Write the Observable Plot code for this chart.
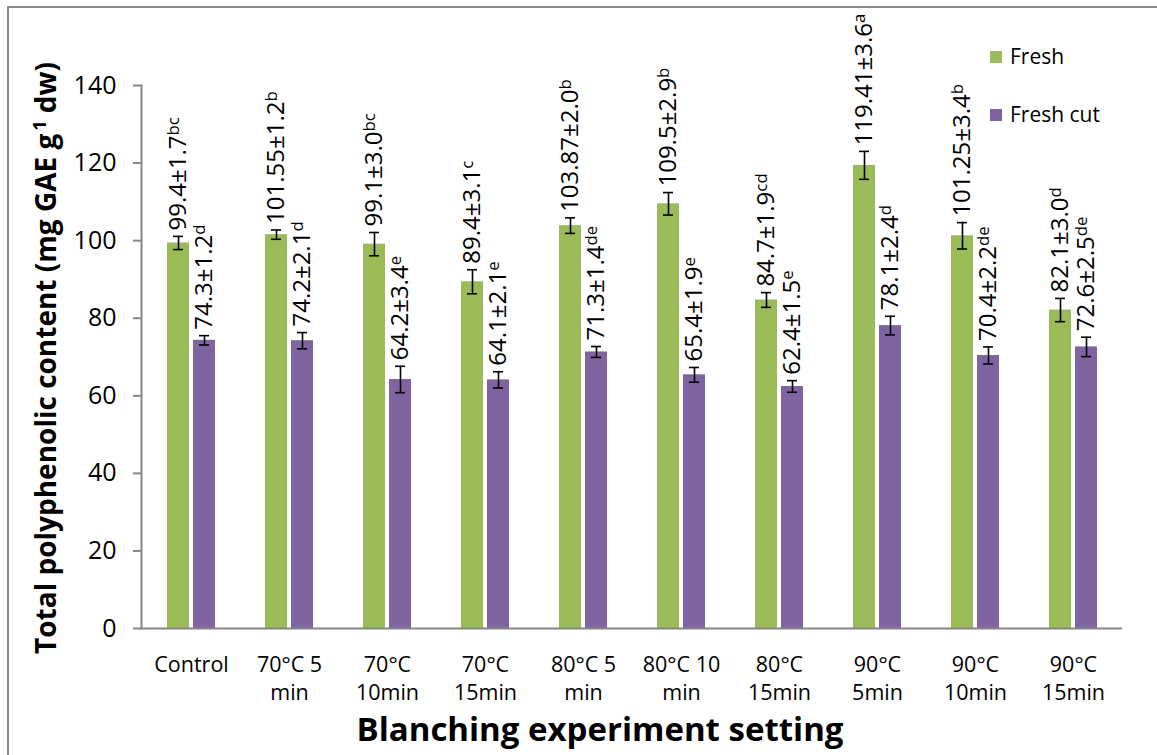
<!DOCTYPE html>
<html>
<head>
<meta charset="utf-8">
<script src="https://cdn.jsdelivr.net/npm/d3@7"></script>
<script src="https://cdn.jsdelivr.net/npm/@observablehq/plot@0.6"></script>
<style>
  body { margin: 0; background: #fff; }
  #chart { position: relative; width: 1157px; height: 755px; overflow: hidden; background: #fff; }
  #border { position: absolute; left: 7px; top: 6px; right: -10px; bottom: -10px;
            border-left: 2px solid #8a8a8a; border-top: 2px solid #8a8a8a; }
  #chart svg { position: absolute; left: 0; top: 0; }
</style>
</head>
<body>
<div id="chart"><div id="border"></div></div>
<script>
// Blanching settings (x axis tick labels)
const categories = [
  "Control", "70°C 5\nmin", "70°C\n10min", "70°C\n15min", "80°C 5\nmin",
  "80°C 10\nmin", "80°C\n15min", "90°C\n5min", "90°C\n10min", "90°C\n15min"
];
const seriesNames = ["Fresh", "Fresh cut"];
const seriesColors = ["#9BBB59", "#8064A2"];

// Total polyphenolic content, mg GAE g-1 dw (mean, SD, significance letters)
const freshMean = [99.4, 101.55, 99.1, 89.4, 103.87, 109.5, 84.7, 119.41, 101.25, 82.1];
const freshSd = [1.7, 1.2, 3.0, 3.1, 2.0, 2.9, 1.9, 3.6, 3.4, 3.0];
const freshLetters = ["bc", "b", "bc", "c", "b", "b", "cd", "a", "b", "d"];

const cutMean = [74.3, 74.2, 64.2, 64.1, 71.3, 65.4, 62.4, 78.1, 70.4, 72.6];
const cutSd = [1.2, 2.1, 3.4, 2.1, 1.4, 1.9, 1.5, 2.4, 2.2, 2.5];
const cutLetters = ["d", "d", "e", "e", "de", "e", "e", "d", "de", "de"];

const yTicks = [0, 20, 40, 60, 80, 100, 120, 140];

function makeRows(means, sds, letters) {
  return categories.map((cat, i) => ({
    cat, mean: means[i], sd: sds[i],
    lo: means[i] - sds[i], hi: means[i] + sds[i],
    label: `${means[i]}±${sds[i].toFixed(1)}|${letters[i]}`
  }));
}
const fresh = makeRows(freshMean, freshSd, freshLetters);
const cut = makeRows(cutMean, cutSd, cutLetters);

function seriesMarks(rows, color, dx) {
  return [
    Plot.barY(rows, {x: "cat", y: "mean", fill: color, dx}),
    Plot.ruleX(rows, {x: "cat", y1: "lo", y2: "hi", stroke: "#000", strokeWidth: 1.6, dx}),
    Plot.tickY(rows, {x: "cat", y: "lo", stroke: "#000", strokeWidth: 1.6, dx, insetLeft: 6, insetRight: 6}),
    Plot.tickY(rows, {x: "cat", y: "hi", stroke: "#000", strokeWidth: 1.6, dx, insetLeft: 6, insetRight: 6}),
    Plot.text(rows, {x: "cat", y: "hi", text: "label", rotate: -90, textAnchor: "start",
      lineAnchor: "middle", dx, dy: -6, fontSize: 24, fill: "#000"})
  ];
}

const plot = Plot.plot({
  width: 1157,
  height: 755,
  marginTop: 85,
  marginBottom: 127,
  marginLeft: 141,
  marginRight: 35,
  style: {fontFamily: "'Open Sans', sans-serif", fontSize: "21px", color: "#000", background: "transparent"},
  x: {domain: categories, paddingInner: 0.776, paddingOuter: 0.388, label: null},
  y: {domain: [0, 140], label: null},
  marks: [
    ...seriesMarks(fresh, seriesColors[0], -13),
    ...seriesMarks(cut, seriesColors[1], 13),
    Plot.axisY({ticks: yTicks, tickSize: 8, tickPadding: 17, stroke: "#868686", strokeWidth: 2, fontSize: 25, label: null}),
    Plot.axisX({tickSize: 0, tickPadding: 24, fontSize: 21.5, lineHeight: 1.3, label: null}),
    Plot.ruleY([0], {stroke: "#868686", strokeWidth: 2}),
    Plot.frame({anchor: "left", stroke: "#868686", strokeWidth: 2})
  ]
});

const svg = d3.select(plot);

// Significance letters as superscripts
svg.selectAll("text").each(function () {
  const t = this.textContent;
  if (!t.includes("|")) return;
  const [main, sup] = t.split("|");
  const s = d3.select(this);
  s.text(null);
  s.append("tspan").text(main);
  s.append("tspan").attr("dy", "-0.45em").attr("font-size", "0.7em").text(sup);
});

// Axis titles
const yTitle = svg.append("text")
  .attr("transform", "translate(46,358) rotate(-90)")
  .attr("text-anchor", "middle")
  .attr("dy", "0.35em")
  .attr("font-weight", "bold")
  .attr("font-size", 28)
  .attr("fill", "#000");
yTitle.append("tspan").text("Total polyphenolic content (mg GAE g");
yTitle.append("tspan").attr("dy", -10).attr("dx", 3).attr("font-size", 18).text("1");
yTitle.append("tspan").attr("dy", 10).text(" dw)");

svg.append("text")
  .attr("x", 600).attr("y", 741)
  .attr("text-anchor", "middle")
  .attr("font-weight", "bold")
  .attr("font-size", 33)
  .attr("fill", "#000")
  .text("Blanching experiment setting");

// Legend
const legend = svg.append("g");
seriesNames.forEach((name, i) => {
  const cy = 57 + i * 58;
  legend.append("rect").attr("x", 990).attr("y", cy - 6).attr("width", 12).attr("height", 12).attr("fill", seriesColors[i]);
  legend.append("text").attr("x", 1010).attr("y", cy).attr("dy", "0.35em")
    .attr("text-anchor", "start")
    .attr("font-size", 21).attr("fill", "#000").text(name);
});

document.getElementById("chart").append(plot);
</script>
</body>
</html>
